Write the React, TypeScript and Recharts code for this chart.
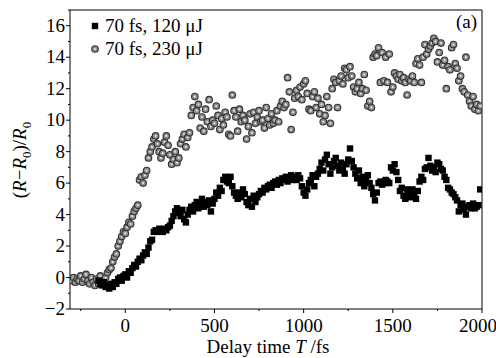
import React from 'react';
import {
  ScatterChart,
  Scatter,
  XAxis,
  YAxis,
  ReferenceLine
} from 'recharts';

document.body.style.margin = '0';

// 70 fs, 120 uJ (black squares): [delay fs, (R-R0)/R0]
const lowPulse: [number, number][] = [
  [-150, -0.2], [-140, -0.4], [-130, -0.5], [-120, -0.3], [-110, -0.6], [-100, -0.5], [-90, -0.7], [-80, -0.4],
  [-70, -0.6], [-60, -0.3], [-50, -0.4], [-40, -0.1], [-30, 0.0], [-20, -0.2], [-10, 0.1], [0, 0.2],
  [10, 0.0], [20, 0.4], [30, 0.3], [40, 0.6], [50, 0.8], [60, 0.7], [70, 1.0], [80, 1.2],
  [90, 1.1], [100, 1.4], [110, 1.6], [120, 1.5], [130, 1.9], [140, 2.3], [150, 2.4], [160, 2.9],
  [170, 3.0], [180, 2.9], [190, 3.1], [200, 3.0], [210, 2.9], [220, 3.1], [230, 3.0], [240, 3.2],
  [250, 3.3], [260, 3.6], [270, 3.9], [280, 4.2], [290, 4.4], [300, 4.1], [310, 3.9], [320, 4.3],
  [330, 3.7], [340, 3.5], [350, 4.0], [360, 4.3], [370, 4.5], [380, 4.2], [390, 4.6], [400, 4.8],
  [410, 4.4], [420, 4.7], [430, 5.0], [440, 4.5], [450, 4.8], [460, 4.6], [470, 4.9], [480, 4.2],
  [490, 4.7], [500, 5.0], [510, 5.4], [520, 5.2], [530, 5.7], [540, 5.5], [550, 6.2], [560, 6.4],
  [570, 6.1], [580, 6.0], [590, 6.4], [600, 5.8], [610, 5.4], [620, 5.2], [630, 5.0], [640, 5.4],
  [650, 5.1], [660, 5.6], [670, 5.3], [680, 4.8], [690, 4.6], [700, 5.0], [710, 4.5], [720, 5.2],
  [730, 4.8], [740, 5.1], [750, 5.3], [760, 5.5], [770, 5.4], [780, 5.7], [790, 5.6], [800, 5.8],
  [810, 5.9], [820, 5.7], [830, 6.0], [840, 6.1], [850, 5.9], [860, 6.2], [870, 6.0], [880, 6.3],
  [890, 6.2], [900, 6.4], [910, 6.1], [920, 6.3], [930, 6.5], [940, 6.2], [950, 6.4], [960, 6.2],
  [970, 6.5], [980, 6.3], [990, 5.8], [1000, 5.4], [1010, 5.2], [1020, 5.6], [1030, 6.0], [1040, 6.2],
  [1050, 6.5], [1060, 5.8], [1070, 6.4], [1080, 6.6], [1090, 6.9], [1100, 7.3], [1110, 6.8], [1120, 7.5],
  [1130, 7.8], [1140, 7.2], [1150, 6.6], [1160, 7.0], [1170, 7.4], [1180, 7.6], [1190, 7.1], [1200, 6.8],
  [1210, 7.3], [1220, 6.9], [1230, 6.6], [1240, 7.2], [1250, 7.5], [1260, 8.2], [1270, 7.4], [1280, 7.0],
  [1290, 6.6], [1300, 6.3], [1310, 6.8], [1320, 6.0], [1330, 6.4], [1340, 5.8], [1350, 6.2], [1360, 6.5],
  [1370, 6.0], [1380, 5.7], [1390, 5.3], [1400, 4.9], [1410, 5.4], [1420, 6.0], [1430, 6.1], [1440, 5.9],
  [1450, 6.0], [1460, 6.2], [1470, 6.1], [1480, 6.0], [1490, 7.0], [1500, 6.8], [1510, 7.2], [1520, 6.7],
  [1530, 6.2], [1540, 5.5], [1550, 5.7], [1560, 5.2], [1570, 5.0], [1580, 5.6], [1590, 5.4], [1600, 5.1],
  [1610, 5.6], [1620, 5.3], [1630, 5.0], [1640, 5.5], [1650, 6.1], [1660, 6.4], [1670, 6.2], [1680, 6.9],
  [1690, 7.0], [1700, 7.6], [1710, 7.1], [1720, 6.8], [1730, 7.0], [1740, 6.7], [1750, 7.3], [1760, 7.2],
  [1770, 6.9], [1780, 6.8], [1790, 6.4], [1800, 6.2], [1810, 5.7], [1820, 5.6], [1830, 5.4], [1840, 5.3],
  [1850, 5.1], [1860, 4.9], [1870, 4.2], [1880, 4.6], [1890, 4.7], [1900, 4.3], [1910, 4.0], [1920, 4.5],
  [1930, 4.6], [1940, 4.4], [1950, 4.7], [1960, 4.4], [1970, 4.5], [1980, 4.6], [1990, 5.6]
];

// 70 fs, 230 uJ (grey circles)
const highPulse: [number, number][] = [
  [-310, -0.1], [-300, -0.2], [-290, 0.0], [-280, -0.3], [-270, -0.1], [-260, -0.2], [-250, 0.1], [-240, -0.3],
  [-230, -0.1], [-220, 0.2], [-210, -0.2], [-200, -0.4], [-190, 0.0], [-180, -0.3], [-170, -0.5], [-160, -0.1],
  [-150, -0.4], [-140, 0.1], [-130, -0.3], [-120, -0.2], [-110, 0.0], [-100, 0.3], [-90, 0.5], [-80, 0.6],
  [-70, 1.0], [-60, 1.3], [-50, 1.5], [-40, 2.0], [-30, 2.3], [-20, 2.6], [-10, 2.9], [0, 2.8],
  [10, 3.2], [20, 3.5], [30, 3.4], [40, 3.9], [50, 4.2], [60, 4.4], [70, 4.6], [80, 6.2],
  [90, 6.4], [100, 6.0], [110, 6.5], [120, 6.8], [130, 7.6], [140, 8.0], [150, 8.3], [160, 8.8],
  [170, 9.0], [180, 8.5], [190, 8.0], [200, 7.6], [210, 7.9], [220, 8.6], [230, 9.0], [240, 8.4],
  [250, 7.8], [260, 7.2], [270, 7.5], [280, 8.0], [290, 7.3], [300, 7.6], [310, 8.5], [320, 8.8],
  [330, 9.1], [340, 8.3], [350, 8.9], [360, 9.2], [370, 10.3], [380, 10.8], [390, 11.5], [400, 10.6],
  [410, 11.0], [420, 9.5], [430, 10.2], [440, 9.3], [450, 10.7], [460, 9.9], [470, 11.3], [480, 9.6],
  [490, 10.0], [500, 9.8], [510, 10.9], [520, 10.3], [530, 9.4], [540, 10.1], [550, 9.7], [560, 10.5],
  [570, 10.2], [580, 9.1], [590, 9.0], [600, 11.6], [610, 10.6], [620, 10.2], [630, 9.3], [640, 10.7],
  [650, 9.9], [660, 10.3], [670, 10.0], [680, 8.8], [690, 9.6], [700, 10.4], [710, 9.2], [720, 10.5],
  [730, 9.8], [740, 10.2], [750, 10.6], [760, 9.9], [770, 10.0], [780, 9.5], [790, 10.8], [800, 10.1],
  [810, 9.7], [820, 10.4], [830, 9.8], [840, 10.0], [850, 10.6], [860, 9.9], [870, 10.9], [880, 11.2],
  [890, 10.8], [900, 11.0], [910, 12.7], [920, 11.8], [930, 9.4], [940, 10.5], [950, 11.4], [960, 11.9],
  [970, 11.5], [980, 12.1], [990, 11.3], [1000, 12.3], [1010, 12.5], [1020, 11.7], [1030, 10.7], [1040, 10.6],
  [1050, 11.5], [1060, 11.8], [1070, 10.8], [1080, 11.4], [1090, 10.4], [1100, 11.0], [1110, 9.9], [1120, 10.3],
  [1130, 11.5], [1140, 10.8], [1150, 9.8], [1160, 12.0], [1170, 12.6], [1180, 12.4], [1190, 10.8], [1200, 12.5],
  [1210, 12.8], [1220, 12.3], [1230, 13.3], [1240, 13.2], [1250, 12.7], [1260, 13.4], [1270, 12.8], [1280, 12.1],
  [1290, 11.8], [1300, 12.0], [1310, 12.4], [1320, 11.7], [1330, 12.0], [1340, 12.9], [1350, 11.9], [1360, 10.9],
  [1370, 11.2], [1380, 10.8], [1390, 14.0], [1400, 14.2], [1410, 14.1], [1420, 14.6], [1430, 12.4], [1440, 14.3],
  [1450, 12.5], [1460, 14.0], [1470, 12.4], [1480, 14.2], [1490, 11.8], [1500, 12.1], [1510, 13.0], [1520, 12.8],
  [1530, 12.6], [1540, 12.9], [1550, 12.5], [1560, 12.7], [1570, 12.4], [1580, 11.6], [1590, 12.6], [1600, 12.5],
  [1610, 12.8], [1620, 12.4], [1630, 13.6], [1640, 13.9], [1650, 13.5], [1660, 12.4], [1670, 14.0], [1680, 14.8],
  [1690, 14.2], [1700, 14.5], [1710, 14.7], [1720, 14.9], [1730, 15.2], [1740, 15.0], [1750, 13.7], [1760, 14.3],
  [1770, 14.9], [1780, 13.5], [1790, 13.8], [1800, 12.0], [1810, 13.4], [1820, 13.2], [1830, 14.6], [1840, 14.8],
  [1850, 13.6], [1860, 13.3], [1870, 12.5], [1880, 12.8], [1890, 12.0], [1900, 11.8], [1910, 14.0], [1920, 11.6],
  [1930, 11.2], [1940, 10.9], [1950, 11.5], [1960, 10.7], [1970, 11.0], [1980, 10.6], [1990, 10.9]
];

const xMajor = [0, 500, 1000, 1500, 2000];
const xTicks = [-250, 0, 250, 500, 750, 1000, 1250, 1500, 1750, 2000];
const yMajor = [-2, 0, 2, 4, 6, 8, 10, 12, 14, 16];
const yTicks = [-2, -1, 0, 1, 2, 3, 4, 5, 6, 7, 8, 9, 10, 11, 12, 13, 14, 15, 16, 17];

const seriesNames = ['70 fs, 120 μJ', '70 fs, 230 μJ'];

const FONT = '"Liberation Serif", "DejaVu Serif", serif';

const toPoints = (arr: [number, number][]) => arr.map(([x, y]) => ({ x, y }));

const SquareMark = (props: any) => {
  const { cx, cy } = props;
  if (cx == null || cy == null) return null;
  return <rect x={cx - 3.2} y={cy - 3.2} width={6.4} height={6.4} fill="#000" />;
};

const CircleMark = (props: any) => {
  const { cx, cy } = props;
  if (cx == null || cy == null) return null;
  return (
    <g>
      <circle cx={cx} cy={cy} r={3.3} fill="#8c8c8c" stroke="#333" strokeWidth={1.1} />
      <circle cx={cx} cy={cy} r={1.1} fill="#e6e6e6" />
    </g>
  );
};

const XTick = (props: any) => {
  const { x, y, payload } = props;
  const major = xMajor.includes(payload.value);
  // the last label sits at the right edge of the page
  const shift = payload.value === 2000 ? -4 : 0;
  return (
    <g>
      <line x1={x} y1={y} x2={x} y2={y + (major ? 4 : 2)} stroke="#000" />
      {major && (
        <text x={x + shift} y={y + 23} textAnchor="middle" fontSize={19} fontFamily={FONT} fill="#000">
          {payload.value}
        </text>
      )}
    </g>
  );
};

const YTick = (props: any) => {
  const { x, y, payload } = props;
  const major = yMajor.includes(payload.value);
  return (
    <g>
      <line x1={x - (major ? 4 : 2)} y1={y} x2={x} y2={y} stroke="#000" />
      {major && (
        <text x={x - 5} y={y + 6} textAnchor="end" fontSize={19} fontFamily={FONT} fill="#000">
          {payload.value < 0 ? '−' + Math.abs(payload.value) : payload.value}
        </text>
      )}
    </g>
  );
};

const LegendBox = () => (
  <div
    style={{
      position: 'absolute',
      left: 88,
      top: 14,
      fontFamily: FONT,
      fontSize: 19,
      lineHeight: '23px',
      color: '#000'
    }}
  >
    <div style={{ display: 'flex', alignItems: 'center' }}>
      <svg width={14} height={14}>
        <SquareMark cx={7} cy={7} />
      </svg>
      <span style={{ marginLeft: 3 }}>{seriesNames[0]}</span>
    </div>
    <div style={{ display: 'flex', alignItems: 'center' }}>
      <svg width={14} height={14}>
        <CircleMark cx={7} cy={7} />
      </svg>
      <span style={{ marginLeft: 3 }}>{seriesNames[1]}</span>
    </div>
  </div>
);

export default function App() {
  return (
    <div style={{ position: 'relative', width: 496, height: 358 }}>
      <ScatterChart width={496} height={358} margin={{ top: 10, right: 14, bottom: 0, left: 0 }}>
        <XAxis
          type="number"
          dataKey="x"
          domain={[-310, 2000]}
          ticks={xTicks}
          interval={0}
          allowDataOverflow
          height={49}
          tickLine={false}
          tickSize={0}
          tickMargin={0}
          tick={<XTick />}
          stroke="#000"
          label={{
            content: () => (
              <text x={268} y={353} textAnchor="middle" fontSize={19} fontFamily={FONT} fill="#000">
                Delay time <tspan fontStyle="italic">T</tspan> /fs
              </text>
            )
          }}
        />
        <YAxis
          type="number"
          dataKey="y"
          domain={[-2, 17]}
          ticks={yTicks}
          interval={0}
          allowDataOverflow
          width={70}
          tickLine={false}
          tickSize={0}
          tickMargin={0}
          tick={<YTick />}
          stroke="#000"
          label={{
            content: () => (
              <text
                x={0}
                y={0}
                transform="translate(26,160) rotate(-90)"
                textAnchor="middle"
                fontSize={19}
                fontFamily={FONT}
                fill="#000"
              >
                (<tspan fontStyle="italic">R</tspan>−<tspan fontStyle="italic">R</tspan>
                <tspan fontSize={13} dy={5}>0</tspan>
                <tspan dy={-5}>)/</tspan>
                <tspan fontStyle="italic">R</tspan>
                <tspan fontSize={13} dy={5}>0</tspan>
              </text>
            )
          }}
        />
        <ReferenceLine y={17} stroke="#000" ifOverflow="visible" />
        <ReferenceLine
          x={2000}
          stroke="#000"
          ifOverflow="visible"
          label={{
            content: () => (
              <text x={477} y={28} textAnchor="end" fontSize={19} fontFamily={FONT} fill="#000">
                (a)
              </text>
            )
          }}
        />
        <Scatter name={seriesNames[1]} data={toPoints(highPulse)} shape={<CircleMark />} isAnimationActive={false} />
        <Scatter name={seriesNames[0]} data={toPoints(lowPulse)} shape={<SquareMark />} isAnimationActive={false} />
      </ScatterChart>
      <LegendBox />
    </div>
  );
}
